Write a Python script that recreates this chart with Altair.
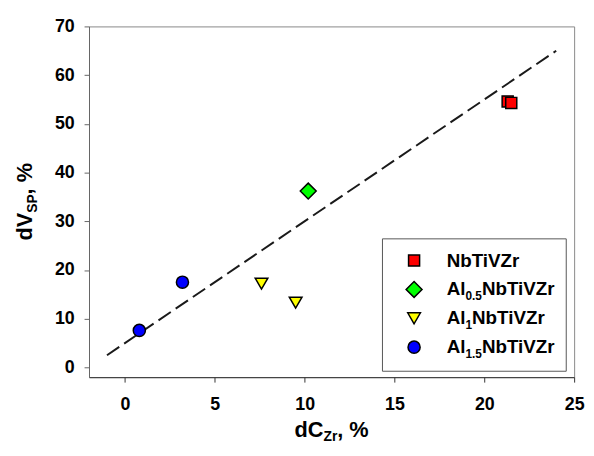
import altair as alt
import pandas as pd

# ---------------- data ----------------
series_names = ["NbTiVZr", "Al0.5NbTiVZr", "Al1NbTiVZr", "Al1.5NbTiVZr"]
series_shapes = ["square", "diamond", "triangle-down", "circle"]
series_fills = ["#FF0000", "#00FF00", "#FFFF00", "#0000FF"]
series_sizes = [125, 260, 165, 150]

label_main = ["", "Al", "Al", "Al"]
label_sub = ["", "0.5", "1", "1.5"]
label_tail = ["NbTiVZr", "NbTiVZr", "NbTiVZr", "NbTiVZr"]

pt_series = ["NbTiVZr", "NbTiVZr", "Al0.5NbTiVZr", "Al1NbTiVZr", "Al1NbTiVZr",
             "Al1.5NbTiVZr", "Al1.5NbTiVZr"]
pt_x = [21.3, 21.5, 10.2, 7.6, 9.5, 0.8, 3.2]
pt_y = [54.6, 54.3, 36.2, 17.2, 13.3, 7.6, 17.5]

fit_x = [-1.0, 24.0]
fit_y = [2.5, 65.0]

x_ticks = [0, 5, 10, 15, 20, 25]
y_ticks = [0, 10, 20, 30, 40, 50, 60, 70]

# ---------------- layout ----------------
W, H = 491, 355
FONT = "Liberation Sans"
AW = {'d': 611, 'C': 722, 'Z': 611, 'r': 389, ',': 278, ' ': 278, '%': 889,
      'V': 667, 'S': 667, 'P': 667, 'A': 722, 'l': 278, 'N': 722, 'b': 611,
      'T': 611, 'i': 278, '0': 556, '1': 556, '5': 556, '.': 278}


def tw(s, fs):
    return sum(AW[c] for c in s) * fs / 1000.0


one = pd.DataFrame({"a": [0]})

xs = alt.Scale(domain=[-2, 25], nice=False, zero=False)
ys = alt.Scale(domain=[-2, 70], nice=False, zero=False)
shape_sc = alt.Scale(domain=series_names, range=series_shapes)
fill_sc = alt.Scale(domain=series_names, range=series_fills)

df_pts = pd.DataFrame({"x": pt_x, "y": pt_y, "series": pt_series})
df_fit = pd.DataFrame({"x": fit_x, "y": fit_y})

xaxis = alt.Axis(values=x_ticks, format="d", title=None, grid=False,
                 labelFont=FONT, labelFontSize=18, labelFontWeight="bold",
                 labelColor="#000000", tickSize=5, tickColor="#333333",
                 domainColor="#333333", labelPadding=14, labelFlush=False)
yaxis = alt.Axis(values=y_ticks, format="d", title=None, grid=False,
                 labelFont=FONT, labelFontSize=18, labelFontWeight="bold",
                 labelColor="#000000", tickSize=5, tickColor="#666666",
                 domainColor="#666666", labelPadding=10, labelFlush=False)

fit = alt.Chart(df_fit).mark_line(strokeDash=[15, 6], strokeWidth=2,
                                  color="#1a1a1a").encode(
    x=alt.X("x:Q", scale=xs, axis=xaxis),
    y=alt.Y("y:Q", scale=ys, axis=yaxis),
)

layers = [fit]

# data points, one layer per series (marker size per series)
for name, sz in zip(series_names, series_sizes):
    layers.append(
        alt.Chart(df_pts[df_pts["series"] == name]).mark_point(
            filled=True, stroke="black", strokeWidth=1.5, opacity=1, size=sz).encode(
            x=alt.X("x:Q", scale=xs),
            y=alt.Y("y:Q", scale=ys),
            shape=alt.Shape("series:N", scale=shape_sc, legend=None),
            fill=alt.Fill("series:N", scale=fill_sc, legend=None),
        )
    )

# legend box
box = alt.Chart(one).mark_rect(fill="white", stroke="#555555", strokeWidth=1).encode(
    x=alt.value(297), x2=alt.value(483), y=alt.value(215), y2=alt.value(349))
layers.append(box)

LFS, LSUB, LDY = 19, 12, 5
for i, (name, sz) in enumerate(zip(series_names, series_sizes)):
    sy = 237 + 29.2 * i
    by = 243 + 29.2 * i
    sym = alt.Chart(pd.DataFrame({"series": [name]})).mark_point(
        filled=True, stroke="black", strokeWidth=1.5, opacity=1, size=sz).encode(
        x=alt.value(329), y=alt.value(sy),
        shape=alt.Shape("series:N", scale=shape_sc, legend=None),
        fill=alt.Fill("series:N", scale=fill_sc, legend=None),
    )
    layers.append(sym)
    cx = 362
    for txt, fs, dy in [(label_main[i], LFS, 0), (label_sub[i], LSUB, LDY),
                        (label_tail[i], LFS, 0)]:
        if txt:
            layers.append(alt.Chart(one).mark_text(
                text=txt, font=FONT, fontSize=fs, fontWeight="bold",
                align="left", baseline="alphabetic", color="black").encode(
                x=alt.value(cx), y=alt.value(by + dy)))
            cx += tw(txt, fs)

# x title: dC_Zr, %
TFS, TSUB, TDY = 22, 14, 4
xparts = [("dC", TFS, 0), ("Zr", TSUB, TDY), (", %", TFS, 0)]
tot = sum(tw(t, f) for t, f, _ in xparts)
cx = W / 2 - tot / 2
for t, f, dy in xparts:
    layers.append(alt.Chart(one).mark_text(
        text=t, font=FONT, fontSize=f, fontWeight="bold", align="left",
        baseline="alphabetic", color="black").encode(
        x=alt.value(cx), y=alt.value(416 + dy)))
    cx += tw(t, f)

# y title: dV_SP, %
yparts = [("dV", TFS, 0), ("SP", TSUB, 5), (", %", TFS, 0)]
tot = sum(tw(t, f) for t, f, _ in yparts)
cy = H / 2 + tot / 2
for t, f, dy in yparts:
    layers.append(alt.Chart(one).mark_text(
        text=t, font=FONT, fontSize=f, fontWeight="bold", align="left",
        baseline="alphabetic", color="black", angle=270).encode(
        x=alt.value(-58 + dy), y=alt.value(cy)))
    cy -= tw(t, f)

chart = alt.layer(*layers).properties(
    width=W, height=H,
    autosize=alt.AutoSizeParams(type="none"),
    padding={"left": 82, "top": 16, "right": 12, "bottom": 65},
).configure_view(stroke="#888888", strokeWidth=1)

chart.save("out.html", embed_options={"renderer": "svg", "actions": False})
